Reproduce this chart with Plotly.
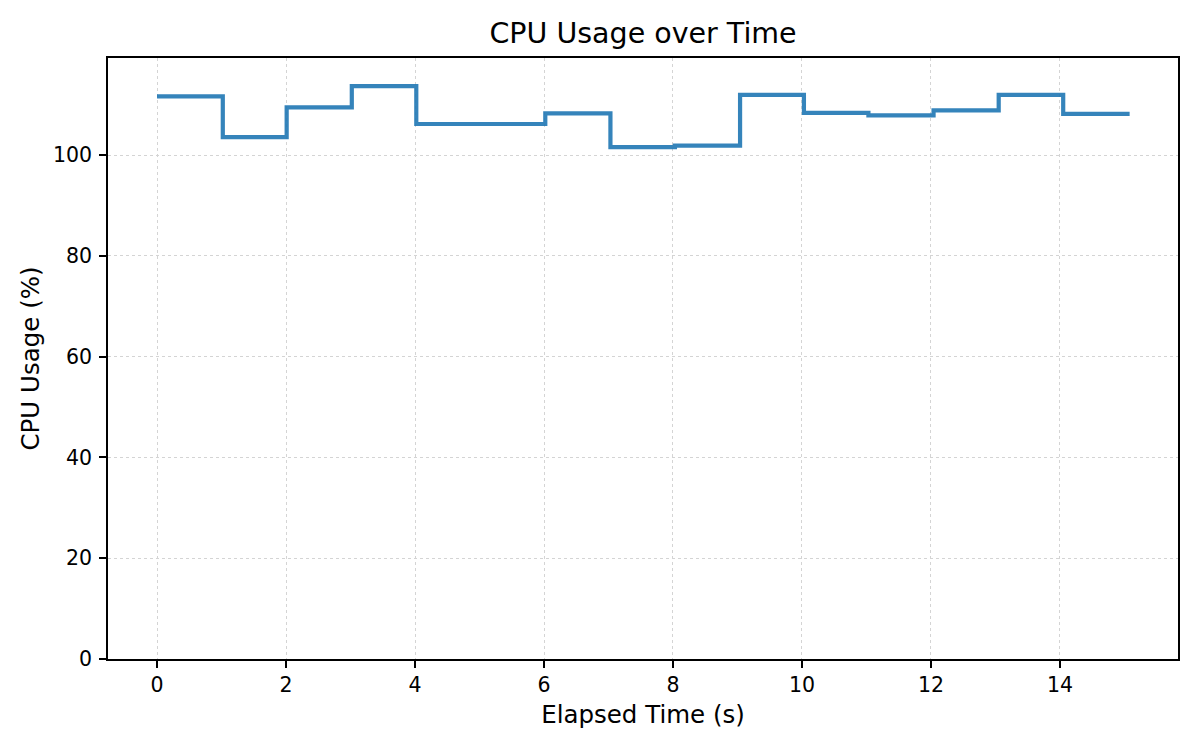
import plotly.graph_objects as go

# Data
elapsed_s = [0, 1.02, 2.01, 3.02, 4.02, 5.02, 6.02, 7.03, 8.03, 9.04,
             10.03, 11.03, 12.04, 13.05, 14.05, 15.08]
cpu_pct = [111.7, 103.6, 109.5, 113.7, 106.2, 106.2, 108.3, 101.6, 101.9, 112.0,
           108.4, 107.9, 108.9, 112.0, 108.2, 108.2]
x_ticks = [0, 2, 4, 6, 8, 10, 12, 14]
y_ticks = [0, 20, 40, 60, 80, 100]

FONT = "DejaVu Sans"

fig = go.Figure()
fig.add_trace(go.Scatter(
    x=elapsed_s, y=cpu_pct, mode="lines",
    line=dict(shape="hv", color="rgba(31,119,180,0.9)", width=4.2),
    showlegend=False,
))

axis_common = dict(
    showline=True, linecolor="black", linewidth=1.7, mirror=True,
    ticks="outside", ticklen=7, tickwidth=1.7, tickcolor="black",
    showgrid=True, gridcolor="#d4d4d4", gridwidth=1.2, griddash="dot",
    zeroline=False,
    tickfont=dict(family=FONT, size=20.5, color="black"),
)

# page body has an 8px default margin, so the figure is sized to compensate
fig.update_layout(
    width=1192, height=742,
    paper_bgcolor="white", plot_bgcolor="white",
    margin=dict(l=100, r=22, t=50, b=91),
    font=dict(family=FONT, color="black"),
    title=dict(text="CPU Usage over Time", x=0.5, xref="paper", xanchor="center",
               y=1, yref="paper", yanchor="bottom", pad=dict(b=15),
               font=dict(family=FONT, size=28.5, color="black")),
    xaxis=dict(axis_common, range=[-0.76, 15.83], tickvals=x_ticks,
               title=dict(text="Elapsed Time (s)", standoff=9,
                          font=dict(family=FONT, size=24.5, color="black"))),
    yaxis=dict(axis_common, range=[0, 119.3], tickvals=y_ticks,
               ticklabelstandoff=3,
               title=dict(text="CPU Usage (%)", standoff=6,
                          font=dict(family=FONT, size=24.5, color="black"))),
)

fig.write_html("out.html")
